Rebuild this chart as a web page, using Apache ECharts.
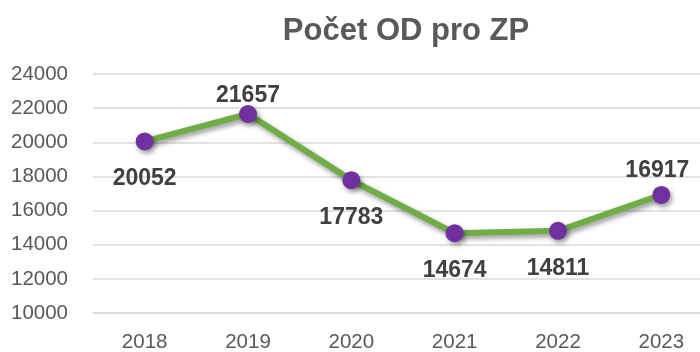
<!DOCTYPE html>
<html>
<head>
<meta charset="utf-8">
<script src="https://cdn.jsdelivr.net/npm/echarts@6/dist/echarts.min.js"></script>
<style>
  html, body { margin: 0; padding: 0; background: #fff; }
  #chart { width: 700px; height: 352px; }
</style>
</head>
<body>
<div id="chart"></div>
<script>
// Počet OD pro ZP by year
const years = ['2018', '2019', '2020', '2021', '2022', '2023'];
const counts = [20052, 21657, 17783, 14674, 14811, 16917];

const FONT = 'Liberation Sans, Arial, sans-serif';

// value label placement: above or below each marker
const labelLayout = [
  { position: 'bottom', distance: 17 },
  { position: 'top', distance: -2 },
  { position: 'bottom', distance: 17 },
  { position: 'bottom', distance: 17 },
  { position: 'bottom', distance: 17 },
  { position: 'top', distance: 4, offset: [-4, 0] }
];

const chart = echarts.init(document.getElementById('chart'), null, { renderer: 'canvas' });

chart.setOption({
  animation: false,
  title: {
    text: 'Počet OD pro ZP',
    left: 401,
    textAlign: 'center',
    top: 11,
    textStyle: {
      fontFamily: FONT,
      fontSize: 31,
      fontWeight: 'bold',
      color: '#595959'
    }
  },
  grid: {
    left: 93, width: 620, top: 74, bottom: 39,
    containLabel: false,
    outerBoundsMode: 'none'
  },
  xAxis: {
    type: 'category',
    data: years,
    boundaryGap: true,
    axisLine: { show: true, lineStyle: { color: '#d9d9d9', width: 1.5 } },
    axisTick: { show: false },
    axisLabel: {
      margin: 19,
      fontFamily: FONT,
      fontSize: 20.5,
      color: '#595959'
    }
  },
  yAxis: {
    type: 'value',
    min: 10000,
    max: 24000,
    interval: 2000,
    axisLine: { show: false },
    axisTick: { show: false },
    splitLine: { lineStyle: { color: '#d9d9d9', width: 1.5 } },
    axisLabel: {
      margin: 25,
      formatter: v => String(v),
      fontFamily: FONT,
      fontSize: 20.5,
      color: '#595959'
    }
  },
  series: [{
    type: 'line',
    data: counts.map((v, i) => ({
      value: v,
      label: labelLayout[i]
    })),
    symbol: 'circle',
    symbolSize: 18,
    lineStyle: {
      color: '#70ad47',
      width: 6,
      shadowColor: 'rgba(0,0,0,0.4)',
      shadowBlur: 5,
      shadowOffsetX: 2,
      shadowOffsetY: 3
    },
    itemStyle: {
      color: '#7030a0',
      shadowColor: 'rgba(0,0,0,0.4)',
      shadowBlur: 5,
      shadowOffsetX: 2,
      shadowOffsetY: 3
    },
    label: {
      show: true,
      fontFamily: FONT,
      fontSize: 23,
      fontWeight: 'bold',
      color: '#404040'
    }
  }]
});
</script>
</body>
</html>
